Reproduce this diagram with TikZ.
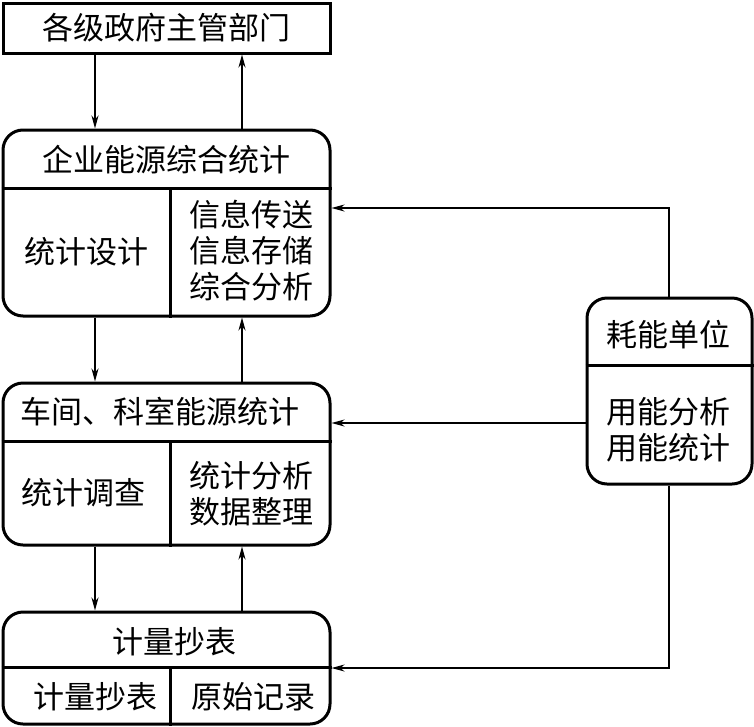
\documentclass[tikz,border=0pt]{standalone}
\usepackage{fontspec}
\newfontfamily\cjk{Noto Sans CJK SC}
\usetikzlibrary{arrows.meta}
\begin{document}
\begin{tikzpicture}[x=1pt,y=-1pt,
  box/.style={draw,line width=3pt,inner sep=0pt,minimum width=327pt},
  rbox/.style={box,rounded corners=20pt},
  sep/.style={line width=3pt},
  txt/.style={font=\cjk\fontsize{31}{36}\selectfont,inner sep=0pt,align=center},
  conn/.style={line width=1.5pt,-{Stealth[length=13pt,width=7pt,inset=4pt]}}]
\useasboundingbox (0,0) rectangle (754,726);
% boxes
\node[box,minimum height=50pt] (gov) at (166.5,28) {};
\node[rbox,minimum height=186pt] (ent) at (166.5,223) {};
\node[rbox,minimum height=162pt] (ws) at (166.5,464) {};
\node[rbox,minimum height=112pt] (meter) at (166.5,668) {};
\node[rbox,minimum width=165pt,minimum height=186pt] (unit) at (669.5,391) {};
% helper coordinates
\coordinate (xL) at (95,0);
\coordinate (xR) at (242,0);
\coordinate (xM) at (170,0);
\coordinate (xU) at (669,0);
\coordinate (y2) at (0,188);
\coordinate (y3) at (0,441);
\coordinate (y4) at (0,667);
\coordinate (yU) at (0,365);
\coordinate (yA) at (0,208);
\coordinate (yB) at (0,423);
\coordinate (yC) at (0,668);
% dividers
\draw[sep] (ent.west |- y2) -- (ent.east |- y2);
\draw[sep] (xM |- y2) -- (xM |- ent.south);
\draw[sep] (ws.west |- y3) -- (ws.east |- y3);
\draw[sep] (xM |- y3) -- (xM |- ws.south);
\draw[sep] (meter.west |- y4) -- (meter.east |- y4);
\draw[sep] (xM |- y4) -- (xM |- meter.south);
\draw[sep] (unit.west |- yU) -- (unit.east |- yU);
% texts
\node[txt] (t1) at (166,28) {各级政府主管部门};
\node[txt] (t2) at (166,160) {企业能源综合统计};
\node[txt] (t3) at (86,252) {统计设计};
\node[txt] (t4) at (251,251) {信息传送\\信息存储\\综合分析};
\node[txt] (t5) at (160,412) {车间、科室能源统计};
\node[txt] (t6) at (83,493) {统计调查};
\node[txt] (t7) at (251,494) {统计分析\\数据整理};
\node[txt] (t8) at (174,642) {计量抄表};
\node[txt] (t9) at (95,697) {计量抄表};
\node[txt] (t10) at (253,697) {原始记录};
\node[txt] (t11) at (668,335) {耗能单位};
\node[txt] (t12) at (668,430) {用能分析\\用能统计};
% vertical connectors
\draw[conn] (gov.south -| xL) -- (ent.north -| xL);
\draw[conn] (ent.north -| xR) -- (gov.south -| xR);
\draw[conn] (ent.south -| xL) -- (ws.north -| xL);
\draw[conn] (ws.north -| xR) -- (ent.south -| xR);
\draw[conn] (ws.south -| xL) -- (meter.north -| xL);
\draw[conn] (meter.north -| xR) -- (ws.south -| xR);
% right connectors
\draw[conn] (unit.north -| xU) |- (ent.east |- yA);
\draw[conn] (unit.west |- yB) -- (ws.east |- yB);
\draw[conn] (unit.south -| xU) |- (meter.east |- yC);
\end{tikzpicture}
\end{document}
